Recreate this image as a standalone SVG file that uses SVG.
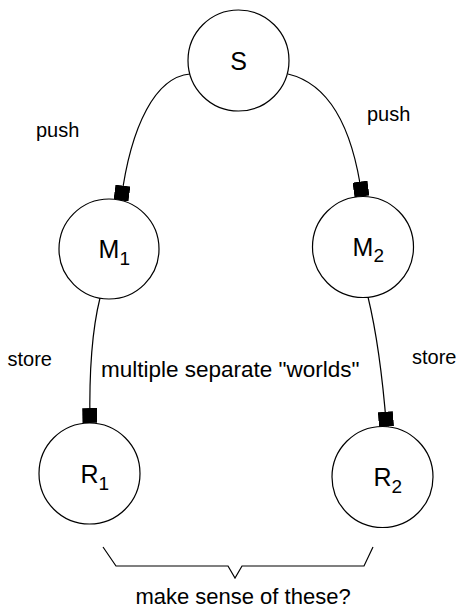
<svg xmlns="http://www.w3.org/2000/svg" width="456" height="608" viewBox="0 0 456 608">
<style>
.node circle{fill:#fff;stroke:#000;stroke-width:1.2}
.lbl{font-family:"Liberation Sans",Arial,sans-serif;font-size:20px;fill:#000}
.big{font-size:22.5px}
.mid{font-size:22px}
.nt{font-family:"Liberation Sans",Arial,sans-serif;font-size:25px;fill:#000}
.sub{font-size:19px}
.conn path{fill:none;stroke:#000;stroke-width:1.2}
</style>
<defs>
<marker id="sq" viewBox="0 0 10 10" refX="10" refY="5" markerWidth="15" markerHeight="15" markerUnits="userSpaceOnUse" orient="auto">
<rect x="0" y="0" width="10" height="10" fill="#000"/>
</marker>
</defs>
<rect width="456" height="608" fill="#fff"/>
<g id="connectors" class="conn">
<path d="M190 74 C156 77 131 124 121 200.5" marker-end="url(#sq)"/>
<path d="M288 74 C330 84 353 130 362 196.5" marker-end="url(#sq)"/>
<path d="M100 298 C92 330 89 370 90 423" marker-end="url(#sq)"/>
<path d="M368 297 C376 330 382 370 386.5 426.7" marker-end="url(#sq)"/>
<path d="M103 547 L116 566 L228 566 L235 578 L242 566 L364 566 L373 547"/>
</g>
<g id="S" class="node"><circle cx="238.5" cy="60.5" r="50.5"/><text class="nt" x="238.5" y="69.5" font-size="24" text-anchor="middle">S</text></g>
<g id="M1" class="node"><circle cx="109" cy="249" r="50"/><text class="nt" x="98.6" y="258">M<tspan class="sub" dy="7">1</tspan></text></g>
<g id="M2" class="node"><circle cx="363" cy="247" r="50.5"/><text class="nt" x="352.6" y="256">M<tspan class="sub" dy="6">2</tspan></text></g>
<g id="R1" class="node"><circle cx="89.5" cy="473.5" r="50.5"/><text class="nt" x="80.5" y="482.5">R<tspan class="sub" dy="7">1</tspan></text></g>
<g id="R2" class="node"><circle cx="382.5" cy="477" r="50.5"/><text class="nt" x="373.5" y="486">R<tspan class="sub" dy="7">2</tspan></text></g>
<g id="labels">
<text class="lbl" x="36" y="137">push</text>
<text class="lbl" x="367" y="121">push</text>
<text class="lbl" x="7.5" y="366">store</text>
<text class="lbl" x="412" y="364">store</text>
<text class="lbl big" x="101" y="377">multiple separate "worlds"</text>
<text class="lbl mid" x="243" y="604" text-anchor="middle">make sense of these?</text>
</g>
</svg>
